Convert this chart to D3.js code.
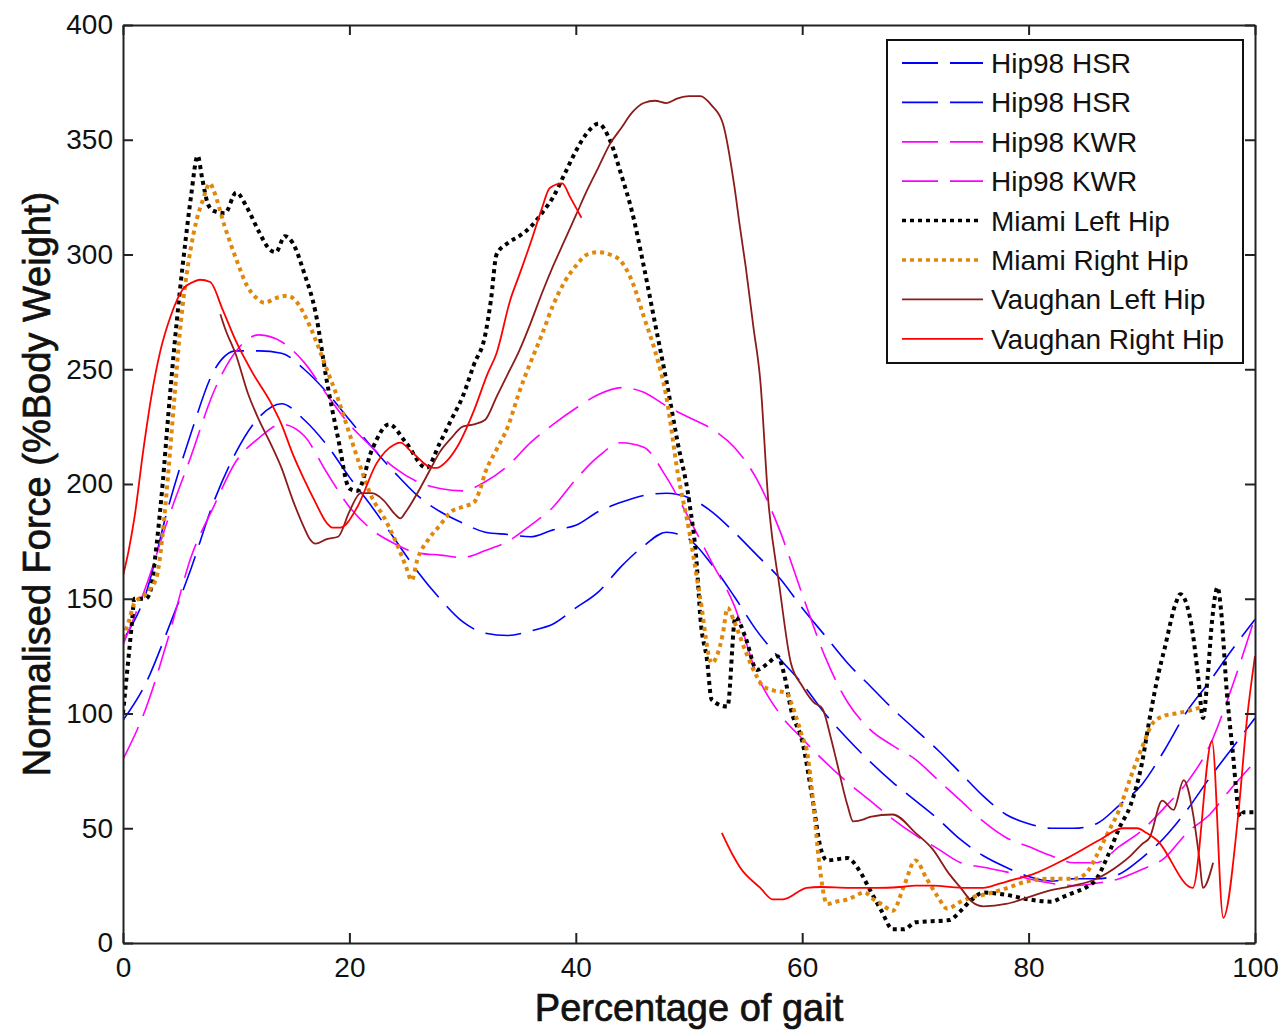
<!DOCTYPE html>
<html>
<head>
<meta charset="utf-8">
<script src="https://cdn.jsdelivr.net/npm/d3@7"></script>
<style>
  html, body { margin: 0; padding: 0; background: #fff; }
  svg { display: block; }
  text { font-family: "Liberation Sans", Arial, sans-serif; fill: #111; }
  .title { stroke: #111; stroke-width: 0.7px; }
</style>
</head>
<body>
<svg id="chart" width="1282" height="1031"></svg>
<script>
// ---- tick values ----
const xTicks = [0, 20, 40, 60, 80, 100];
const yTicks = [0, 50, 100, 150, 200, 250, 300, 350, 400];

// ---- Hip98 model curves, sampled every 2 % of gait ----
const hipGrid = d3.range(0, 101, 2);
const hip98HsrA = [132, 152, 190, 222, 249, 258, 258, 257, 250, 240, 228, 216, 205, 195, 188, 183, 179, 178, 177, 180,
                   182, 188, 192, 195, 196, 194, 188, 179, 169, 159, 146, 134, 122, 112, 102, 93, 84, 74, 64, 56,
                   52, 50, 50, 52, 60, 69, 84, 101, 114, 128, 141];
const hip98HsrB = [97, 113, 137, 163, 192, 214, 229, 235, 228, 217, 203, 190, 176, 162, 150, 140, 135, 134, 136, 139,
                   146, 153, 164, 173, 179, 176, 165, 151, 136, 124, 113, 100, 89, 79, 70, 62, 54, 45, 38, 33,
                   29, 27, 28, 28, 30, 37, 46, 58, 72, 85, 98];
const hip98KwrA = [130, 155, 185, 212, 240, 258, 265, 262, 253, 239, 226, 216, 207, 201, 198, 197, 201, 208, 218, 226,
                   233, 239, 242, 240, 234, 229, 224, 216, 202, 180, 152, 125, 105, 93, 86, 80, 71, 62, 53, 46,
                   42, 38, 35, 35, 42, 49, 59, 70, 86, 112, 142];
const hip98KwrB = [80, 102, 133, 168, 190, 210, 220, 226, 221, 205, 190, 180, 174, 170, 169, 168, 171, 175, 182, 190,
                   202, 212, 218, 216, 203, 185, 166, 147, 117, 100, 89, 79, 70, 62, 54, 47, 41, 35, 33, 31,
                   28, 26, 25, 26, 28, 32, 37, 48, 56, 68, 79];

// ---- measured curves: [percentage of gait, force] ----
const miamiLeft = [[0,100],[0.5,125],[0.8,140],[1,150],[2,150],[2.4,153],[3,175],[3.5,200],[4,230],[4.5,258],
  [5,283],[5.5,305],[6,325],[6.6,343],[7,333],[7.5,322],[8,319],[9,318],[10,327],[11,320],[12,310],[13,302],
  [13.5,301],[14.3,308],[15,305],[16,292],[17,275],[18,245],[19,220],[20,198],[20.7,197],[22,215],[23.5,226],
  [25,218],[26.8,207],[28,218],[29,228],[30,238],[31,252],[32,265],[32.5,280],[33,300],[34,305],[35,308],[36,312],
  [37,318],[38,325],[39,335],[40,345],[41,353],[42,357],[43,350],[44,335],[45,318],[46,295],[47,270],[48,245],
  [49,218],[50,193],[50.7,164],[51,142],[51.6,123],[52,106],[53.4,103],[54.1,142],[55,133],[56,119],[57,122],
  [57.8,125],[58.5,115],[59,102],[60,88],[61,60],[61.6,42],[62.2,36],[64,37],[65,32],[66,23],[67,14],[68,6],
  [69,6],[70,9],[73,10],[74,14],[75,19],[76,22],[78,21],[80,19],[82,18],[83,20],[84,22],[85,24],[86,28],[87,38],
  [88,50],[89,60],[90,78],[90.7,98],[91.5,118],[92,128],[93,148],[93.4,152],[94,147],[94.5,135],[95,115],
  [95.4,98],[95.8,115],[96.2,140],[96.7,155],[97,145],[97.5,110],[98,85],[98.7,55],[99,57],[100,57]];

const miamiRight = [[0,133],[0.5,140],[1,148],[2,152],[2.5,155],[3,160],[3.5,178],[4,205],[4.5,235],[5,265],
  [5.5,287],[6,303],[6.5,315],[7,323],[7.7,331],[8,328],[9,312],[10,298],[11,286],[11.8,281],[12.5,279],
  [13.5,281],[14.5,282],[15.4,279],[16,274],[17,263],[18,250],[19,237],[20,222],[21,207],[22,194],[23,186],
  [24,176],[25,164],[25.5,158],[26,167],[27,176],[28,182],[29,188],[30,190],[31,192],[31.5,197],[32,205],
  [33,215],[34,225],[35,240],[36,253],[37,265],[38,278],[39,288],[40,295],[41,300],[42,301],[43,300],[44,297],
  [45,288],[46,273],[47,258],[48,238],[49,205],[50,180],[51,150],[52,122],[53,135],[53.4,146],[54,140],[55,127],
  [56,116],[56.5,112],[57.5,110],[58.6,109],[59,105],[60,90],[60.4,84],[61,60],[61.5,35],[62.2,17],[63,18],
  [64,19],[64.5,20],[65.5,22],[66.3,19],[67,17],[68,14],[69,25],[70,36],[71,28],[72,20],[72.8,15],[74,18],
  [75,20],[76,21],[77.5,23],[80,27],[82,28],[84,28],[85,30],[86,38],[87,48],[88,58],[89,72],[90,85],[91,96],
  [92,99],[93,100],[94,101],[95.4,103]];

const vaughanLeft = [[8.6,274],[9,268],[10,256],[11,240],[12,228],[13,218],[14,207],[15,193],[16,181],[16.5,176],
  [17,174],[18,176],[19,177],[20,188],[21,196],[22,196],[23,193],[24,187],[24.5,185],[25,188],[26,196],[27,205],
  [28,214],[29,220],[30,225],[31,226],[32,228],[33,238],[34,248],[35,258],[36,270],[37,283],[38,295],[39,306],
  [40,317],[41,328],[42,338],[43,348],[44,355],[45,362],[46,366],[47,367],[48,366],[49,368],[50,369],[51,369],
  [52,365],[53,357],[54,330],[54.5,312],[55,295],[55.7,268],[56.3,245],[57,193],[58,155],[59,122],[60,112],
  [61,105],[61.8,102],[62.5,90],[63,80],[64,60],[64.5,53],[65.5,54],[66,55],[68,56],[70,48],[71.5,41],[73,30],
  [74,24],[75,18],[76,16],[78,17],[80,20],[82,23],[84,25],[86,28],[88,34],[89,38],[90,43],[90.7,46],[91.8,62],
  [92.8,58],[93.7,71],[94.5,57],[95.1,36],[95.4,24],[96.3,35]];

// null marks the gap between the two recorded sections
const vaughanRight = [[0,160],[0.5,171],[1,185],[1.8,215],[2.5,238],[3.3,258],[4.2,273],[5.3,285],[6.2,288],
  [6.8,289],[7.7,288],[8.8,276],[10,262],[11.5,248],[13,236],[14,226],[15,213],[16,202],[17,192],[18,183],
  [18.5,181],[19.2,181],[20.7,190],[22.4,209],[23.9,217],[24.5,218],[25.5,214],[27.4,207],[27.7,207],[28.6,210],
  [29.5,216],[31,232],[32.2,248],[33,257],[34.2,280],[35,291],[36,305],[37,320],[37.7,329],[38.8,331],[39.5,325],
  [40.5,316],[41,null],
  [52.9,48],[53.9,38],[54.5,33],[56.3,24],[57.4,19],[58.3,19],[60.4,24],[61.6,24.4],[64.2,24],[66.6,24],
  [68.6,24.4],[70,25],[71.5,25],[74.5,24],[76,24],[77.5,26],[79,28],[80.4,30],[83.4,37],[86.3,45],[88.3,50],
  [89.6,50],[90.4,48],[91.3,45],[94.5,24],[96.2,88],[97.2,11],[98.5,55],[99.3,98],[100,125]];

const seriesNames = ["Hip98 HSR", "Hip98 HSR", "Hip98 KWR", "Hip98 KWR",
                     "Miami Left Hip", "Miami Right Hip", "Vaughan Left Hip", "Vaughan Right Hip"];

// ---- assemble series ----
const zipGrid = vals => hipGrid.map((g, i) => [g, vals[i]]);
const dashed = { dash: "36 12", width: 1.6 };
const dotted = { dash: "4 4", width: 4 };
const solid  = { dash: null, width: 1.8 };
const series = [
  { name: seriesNames[0], pts: zipGrid(hip98HsrA), color: "#0000ff", ...dashed },
  { name: seriesNames[1], pts: zipGrid(hip98HsrB), color: "#0000ff", ...dashed },
  { name: seriesNames[2], pts: zipGrid(hip98KwrA), color: "#ff00ff", ...dashed },
  { name: seriesNames[3], pts: zipGrid(hip98KwrB), color: "#ff00ff", ...dashed },
  { name: seriesNames[4], pts: miamiLeft,  color: "#000000", ...dotted },
  { name: seriesNames[5], pts: miamiRight, color: "#e0880c", ...dotted },
  { name: seriesNames[6], pts: vaughanLeft,  color: "#8c1c1c", ...solid },
  { name: seriesNames[7], pts: vaughanRight, color: "#ff0000", ...solid }
];

// ---- layout ----
const svg = d3.select("#chart");
const plotL = 123, plotR = 1255, plotT = 25, plotB = 943;
const x = d3.scaleLinear().domain([0, 100]).range([plotL, plotR]);
const y = d3.scaleLinear().domain([0, 400]).range([plotB, plotT]);

svg.append("rect").attr("width", 1282).attr("height", 1031).attr("fill", "#fff");

svg.append("defs").append("clipPath").attr("id", "plotClip")
  .append("rect").attr("x", plotL).attr("y", plotT)
  .attr("width", plotR - plotL).attr("height", plotB - plotT);

// ---- curves ----
const line = d3.line()
  .defined(d => d[1] !== null)
  .x(d => x(d[0])).y(d => y(d[1]))
  .curve(d3.curveMonotoneX);

const plot = svg.append("g").attr("clip-path", "url(#plotClip)");
series.forEach(s => {
  plot.append("path")
    .attr("d", line(s.pts))
    .attr("fill", "none")
    .attr("stroke", s.color)
    .attr("stroke-width", s.width)
    .attr("stroke-dasharray", s.dash)
    .attr("stroke-linejoin", "round");
});

// ---- axes (box with inward ticks) ----
const fontSize = 28;
const styleAxis = g => {
  g.select(".domain").attr("stroke", "#222").attr("stroke-width", 2);
  g.selectAll(".tick line").attr("stroke", "#222").attr("stroke-width", 2);
  g.selectAll(".tick text").attr("font-size", fontSize).attr("fill", "#111")
    .attr("font-family", "'Liberation Sans', Arial, sans-serif");
};
svg.append("g").attr("transform", `translate(0,${plotB})`)
  .call(d3.axisBottom(x).tickValues(xTicks).tickSize(-10).tickSizeOuter(0).tickPadding(14))
  .call(styleAxis);
svg.append("g").attr("transform", `translate(0,${plotT})`)
  .call(d3.axisTop(x).tickValues(xTicks).tickSize(-10).tickSizeOuter(0).tickFormat(""))
  .call(styleAxis);
svg.append("g").attr("transform", `translate(${plotL},0)`)
  .call(d3.axisLeft(y).tickValues(yTicks).tickSize(-10).tickSizeOuter(0).tickPadding(10))
  .call(styleAxis);
svg.append("g").attr("transform", `translate(${plotR},0)`)
  .call(d3.axisRight(y).tickValues(yTicks).tickSize(-10).tickSizeOuter(0).tickFormat(""))
  .call(styleAxis);

// ---- axis titles ----
svg.append("text").attr("class", "title")
  .attr("x", (plotL + plotR) / 2).attr("y", 1021)
  .attr("text-anchor", "middle").attr("font-size", 38)
  .text("Percentage of gait");
svg.append("text").attr("class", "title")
  .attr("transform", `translate(50,${(plotT + plotB) / 2}) rotate(-90)`)
  .attr("text-anchor", "middle").attr("font-size", 38)
  .text("Normalised Force (%Body Weight)");

// ---- legend ----
const lg = svg.append("g");
lg.append("rect").attr("x", 887).attr("y", 40).attr("width", 356).attr("height", 323)
  .attr("fill", "#fff").attr("stroke", "#111").attr("stroke-width", 2);
series.forEach((s, i) => {
  const yy = 63 + i * 39.4;
  const isDot = s.dash === dotted.dash;
  lg.append("line")
    .attr("x1", 902).attr("x2", isDot ? 978 : 983)
    .attr("y1", yy).attr("y2", yy)
    .attr("stroke", s.color)
    .attr("stroke-width", isDot ? 3.5 : 1.8)
    .attr("stroke-dasharray", s.dash);
  lg.append("text")
    .attr("x", 991).attr("y", yy).attr("dy", "0.36em")
    .attr("font-size", fontSize)
    .text(s.name);
});
</script>
</body>
</html>
